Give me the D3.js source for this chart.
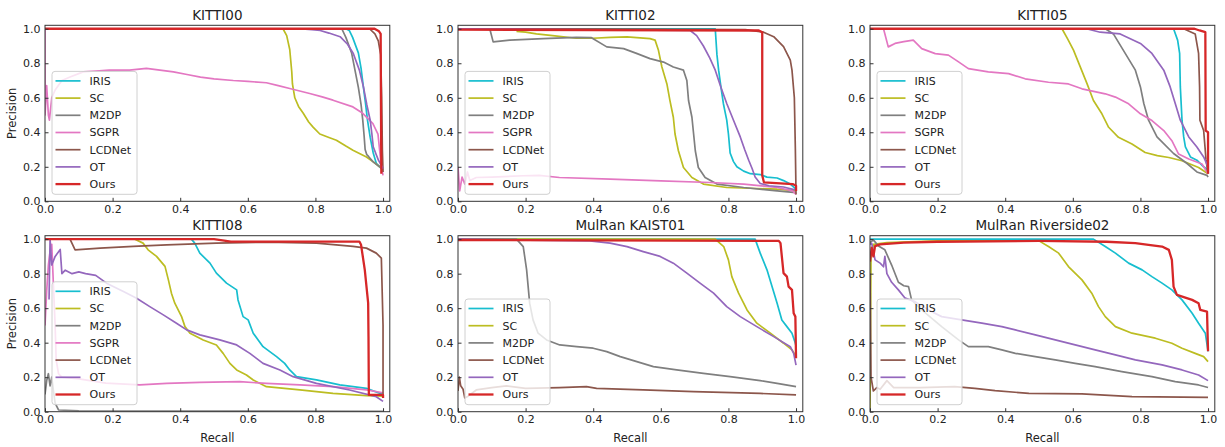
<!DOCTYPE html>
<html>
<head>
<meta charset="utf-8">
<script src="https://cdn.jsdelivr.net/npm/d3@7/dist/d3.min.js"></script>
<style>
  body { margin: 0; background: #fff; }
  svg { display: block; font-family: "DejaVu Sans", sans-serif; }
</style>
</head>
<body>
<svg id="chart" width="1225" height="447"></svg>
<script>
// methods in plotting / legend order
const methods = ["IRIS", "SC", "M2DP", "SGPR", "LCDNet", "OT", "Ours"];
const tickValues = [0, 0.2, 0.4, 0.6, 0.8, 1.0];

// PR curves, [recall, precision] pairs
const kitti00 = {
  IRIS: [[0,1],[0.89,1],[0.9,0.99],[0.91,0.95],[0.927,0.86],[0.935,0.77],[0.942,0.66],[0.948,0.57],[0.954,0.47],[0.962,0.37],[0.971,0.28],[0.98,0.22],[0.99,0.2],[1,0.18]],
  SC: [[0,1],[0.704,1],[0.715,0.96],[0.724,0.88],[0.73,0.75],[0.732,0.68],[0.739,0.6],[0.75,0.55],[0.764,0.51],[0.78,0.46],[0.793,0.43],[0.813,0.39],[0.84,0.37],[0.862,0.354],[0.89,0.32],[0.911,0.296],[0.951,0.257],[0.97,0.23],[0.99,0.2],[1,0.19]],
  M2DP: [[0,1],[0.878,1],[0.89,0.95],[0.907,0.86],[0.918,0.75],[0.927,0.66],[0.935,0.56],[0.94,0.47],[0.944,0.38],[0.947,0.3],[0.952,0.27],[0.957,0.26],[0.97,0.23],[0.99,0.2],[1,0.19]],
  SGPR: [[0,1],[0,0.5],[0.005,0.67],[0.01,0.5],[0.013,0.47],[0.02,0.6],[0.03,0.645],[0.05,0.7],[0.074,0.72],[0.113,0.75],[0.15,0.755],[0.19,0.76],[0.25,0.76],[0.3,0.77],[0.34,0.76],[0.38,0.75],[0.42,0.735],[0.46,0.72],[0.5,0.71],[0.557,0.7],[0.6,0.695],[0.655,0.687],[0.69,0.67],[0.724,0.654],[0.783,0.625],[0.82,0.605],[0.852,0.586],[0.911,0.547],[0.94,0.51],[0.97,0.45],[0.985,0.39],[0.995,0.2],[1,0.15]],
  LCDNet: [[0,1],[0.96,1],[0.976,0.97],[0.986,0.93],[0.993,0.85],[0.996,0.6],[0.998,0.3],[1,0.17]],
  OT: [[0,1],[0.75,1],[0.79,0.995],[0.814,0.99],[0.84,0.975],[0.873,0.954],[0.895,0.91],[0.912,0.857],[0.93,0.76],[0.942,0.663],[0.952,0.56],[0.962,0.47],[0.967,0.39],[0.971,0.316],[0.98,0.27],[0.986,0.24],[1,0.19]],
  Ours: [[0,1],[0.975,1],[0.988,0.985],[0.993,0.97],[0.994,0.5],[0.995,0.16]]
};

const kitti02 = {
  IRIS: [[0,1],[0.761,1],[0.766,0.85],[0.771,0.76],[0.778,0.66],[0.785,0.567],[0.795,0.47],[0.8,0.39],[0.805,0.28],[0.815,0.23],[0.825,0.2],[0.845,0.175],[0.865,0.16],[0.894,0.155],[0.914,0.14],[0.944,0.135],[0.963,0.12],[0.983,0.1],[1,0.07]],
  SC: [[0.173,0.985],[0.2,0.98],[0.232,0.97],[0.28,0.96],[0.35,0.945],[0.4,0.945],[0.45,0.95],[0.5,0.953],[0.568,0.943],[0.583,0.934],[0.593,0.875],[0.603,0.78],[0.618,0.68],[0.627,0.584],[0.637,0.487],[0.642,0.39],[0.652,0.293],[0.667,0.196],[0.692,0.138],[0.726,0.1],[0.795,0.08],[0.944,0.07],[1,0.06]],
  M2DP: [[0,1],[0.094,1],[0.104,0.924],[0.153,0.934],[0.252,0.943],[0.35,0.95],[0.395,0.948],[0.44,0.895],[0.49,0.885],[0.53,0.856],[0.568,0.827],[0.608,0.807],[0.637,0.778],[0.667,0.76],[0.677,0.7],[0.682,0.584],[0.692,0.487],[0.697,0.39],[0.702,0.293],[0.711,0.196],[0.731,0.138],[0.766,0.1],[0.845,0.08],[0.944,0.06],[1,0.05]],
  SGPR: [[0,0.2],[0.005,0.06],[0.012,0.14],[0.02,0.1],[0.028,0.17],[0.035,0.12],[0.054,0.138],[0.1,0.14],[0.193,0.148],[0.24,0.15],[0.3,0.138],[0.45,0.128],[0.6,0.118],[0.746,0.109],[0.845,0.1],[0.944,0.08],[0.99,0.06],[1,0.04]],
  LCDNet: [[0,1],[0.85,0.995],[0.904,0.98],[0.934,0.954],[0.963,0.896],[0.973,0.857],[0.983,0.818],[0.988,0.76],[0.995,0.6],[0.998,0.3],[1,0.04]],
  OT: [[0,1],[0.687,0.99],[0.706,0.96],[0.726,0.9],[0.745,0.83],[0.761,0.76],[0.778,0.66],[0.795,0.567],[0.815,0.47],[0.835,0.373],[0.848,0.3],[0.86,0.238],[0.87,0.19],[0.879,0.141],[0.894,0.103],[0.92,0.09],[0.963,0.083],[1,0.065]],
  Ours: [[0,0.995],[0.89,0.99],[0.9,0.98],[0.9,0.15],[0.905,0.11],[0.99,0.1],[1,0.09],[1,0.06]]
};

const kitti05 = {
  IRIS: [[0,1],[0.898,1],[0.91,0.934],[0.916,0.857],[0.918,0.663],[0.923,0.47],[0.928,0.373],[0.933,0.315],[0.948,0.257],[0.967,0.238],[0.987,0.2],[1,0.18]],
  SC: [[0,1],[0.568,1],[0.585,0.94],[0.602,0.876],[0.622,0.779],[0.642,0.682],[0.661,0.584],[0.686,0.507],[0.706,0.429],[0.735,0.371],[0.775,0.332],[0.814,0.283],[0.85,0.265],[0.884,0.254],[0.923,0.235],[0.972,0.196],[1,0.16]],
  M2DP: [[0,1],[0.696,1],[0.72,0.97],[0.755,0.857],[0.785,0.76],[0.8,0.663],[0.81,0.567],[0.824,0.47],[0.849,0.373],[0.898,0.277],[0.938,0.219],[0.967,0.17],[0.997,0.15],[1,0.14]],
  SGPR: [[0,1],[0.04,1],[0.054,0.895],[0.074,0.915],[0.1,0.925],[0.128,0.934],[0.153,0.885],[0.193,0.856],[0.232,0.847],[0.262,0.808],[0.291,0.769],[0.35,0.75],[0.41,0.74],[0.459,0.71],[0.528,0.69],[0.587,0.68],[0.627,0.652],[0.696,0.623],[0.726,0.604],[0.765,0.565],[0.8,0.507],[0.834,0.468],[0.869,0.41],[0.893,0.351],[0.913,0.274],[0.943,0.245],[0.982,0.216],[1,0.16]],
  LCDNet: [[0,1],[0.928,1],[0.962,0.97],[0.972,0.857],[0.975,0.663],[0.976,0.47],[0.987,0.41],[0.991,0.315],[0.994,0.24],[1,0.16]],
  OT: [[0,1],[0.64,1],[0.681,0.98],[0.74,0.97],[0.8,0.915],[0.834,0.857],[0.869,0.76],[0.888,0.663],[0.903,0.567],[0.918,0.47],[0.943,0.373],[0.967,0.315],[0.987,0.257],[1,0.2]],
  Ours: [[0,1],[0.96,1],[0.975,0.99],[0.992,0.98],[0.993,0.41],[1,0.4],[1,0.16]]
};

const kitti08 = {
  IRIS: [[0,1],[0.433,1],[0.443,0.977],[0.458,0.919],[0.488,0.861],[0.507,0.803],[0.537,0.745],[0.567,0.706],[0.571,0.648],[0.586,0.551],[0.601,0.532],[0.616,0.455],[0.645,0.377],[0.685,0.319],[0.709,0.28],[0.724,0.242],[0.744,0.203],[0.803,0.184],[0.872,0.155],[0.951,0.135],[1,0.1]],
  SC: [[0,1],[0.266,1],[0.29,0.977],[0.305,0.938],[0.33,0.9],[0.355,0.842],[0.365,0.764],[0.374,0.687],[0.384,0.629],[0.404,0.551],[0.414,0.493],[0.429,0.455],[0.468,0.416],[0.507,0.387],[0.527,0.338],[0.547,0.28],[0.567,0.242],[0.596,0.213],[0.616,0.184],[0.655,0.145],[0.754,0.126],[0.852,0.106],[0.951,0.093],[1,0.09]],
  M2DP: [[0,0.1],[0.005,0.18],[0.01,0.22],[0.015,0.15],[0.02,0.2],[0.025,0.12],[0.03,0.05],[0.04,0.01],[0.1,0.005],[1,0.002]],
  SGPR: [[0,0.5],[0.005,0.7],[0.01,0.85],[0.015,0.93],[0.02,0.97],[0.025,0.73],[0.03,0.5],[0.033,0.3],[0.04,0.22],[0.05,0.2],[0.1,0.19],[0.18,0.166],[0.28,0.156],[0.36,0.164],[0.458,0.17],[0.576,0.174],[0.655,0.164],[0.754,0.155],[0.852,0.145],[0.951,0.126],[1,0.11]],
  LCDNet: [[0,1],[0.074,1],[0.089,0.938],[0.163,0.948],[0.261,0.958],[0.36,0.967],[0.507,0.977],[0.655,0.983],[0.803,0.977],[0.911,0.958],[0.951,0.948],[0.98,0.919],[0.995,0.89],[1,0.5],[1,0.08]],
  OT: [[0.012,0.65],[0.015,1],[0.02,0.85],[0.03,0.9],[0.045,0.94],[0.05,0.8],[0.06,0.82],[0.08,0.8],[0.1,0.81],[0.12,0.8],[0.15,0.79],[0.182,0.745],[0.232,0.696],[0.271,0.658],[0.31,0.609],[0.35,0.561],[0.389,0.513],[0.419,0.474],[0.458,0.445],[0.517,0.416],[0.567,0.387],[0.606,0.338],[0.645,0.28],[0.695,0.242],[0.734,0.203],[0.803,0.164],[0.901,0.126],[0.98,0.087],[1,0.06]],
  Ours: [[0,1],[0.5,1],[0.55,0.986],[0.93,0.986],[0.935,0.967],[0.946,0.822],[0.956,0.629],[0.957,0.435],[0.958,0.097],[1,0.097],[1,0.08]]
};

const kaist01 = {
  IRIS: [[0,1],[0.879,1],[0.894,0.919],[0.914,0.822],[0.929,0.725],[0.944,0.629],[0.958,0.532],[0.973,0.493],[0.988,0.455],[0.998,0.397],[1,0.38]],
  SC: [[0,1],[0.761,1],[0.786,0.957],[0.8,0.88],[0.81,0.783],[0.83,0.687],[0.855,0.59],[0.884,0.513],[0.924,0.455],[0.963,0.397],[0.988,0.358],[1,0.32]],
  M2DP: [[0,1],[0.173,1],[0.193,0.957],[0.203,0.822],[0.212,0.629],[0.222,0.532],[0.237,0.455],[0.262,0.416],[0.301,0.387],[0.351,0.377],[0.4,0.368],[0.44,0.348],[0.48,0.319],[0.529,0.29],[0.578,0.261],[0.647,0.242],[0.726,0.222],[0.805,0.203],[0.894,0.18],[0.944,0.164],[1,0.145]],
  LCDNet: [[0,0.12],[0.004,0.2],[0.008,0.15],[0.015,0.13],[0.02,0.08],[0.03,0.09],[0.054,0.126],[0.1,0.14],[0.143,0.15],[0.2,0.135],[0.3,0.14],[0.38,0.145],[0.41,0.135],[0.548,0.126],[0.697,0.116],[0.894,0.106],[1,0.097]],
  OT: [[0,1],[0.39,0.99],[0.45,0.977],[0.5,0.957],[0.548,0.928],[0.598,0.9],[0.637,0.861],[0.677,0.803],[0.716,0.745],[0.756,0.687],[0.795,0.609],[0.835,0.551],[0.884,0.493],[0.934,0.435],[0.983,0.377],[0.993,0.338],[1,0.27]],
  Ours: [[0,0.995],[0.949,0.99],[0.954,0.977],[0.963,0.803],[0.973,0.783],[0.978,0.725],[0.988,0.706],[0.993,0.57],[0.998,0.551],[1,0.31]]
};

const riverside02 = {
  IRIS: [[0,1],[0.661,1],[0.696,0.957],[0.726,0.919],[0.765,0.861],[0.805,0.822],[0.834,0.783],[0.864,0.745],[0.893,0.706],[0.923,0.648],[0.953,0.571],[0.972,0.513],[0.992,0.455],[1,0.35]],
  SC: [[0,0.02],[0.003,0.9],[0.01,0.97],[0.05,0.98],[0.2,0.99],[0.5,0.99],[0.528,0.957],[0.558,0.919],[0.587,0.841],[0.627,0.764],[0.656,0.687],[0.676,0.609],[0.696,0.551],[0.726,0.493],[0.775,0.455],[0.844,0.426],[0.893,0.397],[0.923,0.368],[0.962,0.338],[0.987,0.319],[1,0.29]],
  M2DP: [[0,0.98],[0.01,0.996],[0.025,0.96],[0.044,0.938],[0.064,0.85],[0.084,0.75],[0.1,0.73],[0.114,0.725],[0.123,0.648],[0.153,0.59],[0.212,0.493],[0.262,0.416],[0.291,0.377],[0.35,0.377],[0.39,0.358],[0.43,0.338],[0.489,0.319],[0.548,0.3],[0.607,0.28],[0.666,0.261],[0.745,0.232],[0.834,0.203],[0.903,0.174],[0.972,0.155],[1,0.14]],
  LCDNet: [[0,0.8],[0.003,0.2],[0.01,0.12],[0.02,0.14],[0.03,0.13],[0.05,0.18],[0.07,0.14],[0.15,0.14],[0.25,0.145],[0.31,0.135],[0.37,0.122],[0.47,0.106],[0.627,0.103],[0.775,0.087],[1,0.083]],
  OT: [[0,0.97],[0.005,0.977],[0.015,0.88],[0.03,0.861],[0.04,0.84],[0.044,0.9],[0.05,0.8],[0.064,0.75],[0.084,0.706],[0.104,0.658],[0.133,0.638],[0.173,0.59],[0.212,0.551],[0.271,0.532],[0.331,0.513],[0.39,0.493],[0.43,0.474],[0.489,0.445],[0.548,0.416],[0.607,0.387],[0.666,0.358],[0.726,0.329],[0.785,0.3],[0.864,0.271],[0.923,0.242],[0.972,0.213],[1,0.18]],
  Ours: [[0,0.87],[0.005,0.95],[0.01,0.9],[0.015,0.96],[0.03,0.97],[0.1,0.98],[0.2,0.985],[0.5,0.99],[0.7,0.985],[0.785,0.977],[0.824,0.967],[0.864,0.957],[0.884,0.938],[0.893,0.88],[0.898,0.725],[0.908,0.677],[0.953,0.648],[0.972,0.629],[0.977,0.59],[0.997,0.58],[1,0.35]]
};

const panels = [
  { title: "KITTI00", data: kitti00, col: 0, row: 0 },
  { title: "KITTI02", data: kitti02, col: 1, row: 0 },
  { title: "KITTI05", data: kitti05, col: 2, row: 0 },
  { title: "KITTI08", data: kitti08, col: 0, row: 1 },
  { title: "MulRan KAIST01", data: kaist01, col: 1, row: 1 },
  { title: "MulRan Riverside02", data: riverside02, col: 2, row: 1 }
];

// matplotlib tab10 colours
const color = d3.scaleOrdinal()
  .domain(methods)
  .range(["#17becf", "#bcbd22", "#7f7f7f", "#e377c2", "#8c564b", "#9467bd", "#d62728"]);

const colLeft = [45, 458, 870];
const rowBottom = [201.3, 411.7];
const plotW = 344.8, plotH = 176;

const svg = d3.select("#chart");
svg.append("rect").attr("width", 1225).attr("height", 447).attr("fill", "#fff");

const x = d3.scaleLinear().domain([0, 1.02]).range([0, plotW]);
const y = d3.scaleLinear().domain([0, 1.02]).range([plotH, 0]);

const line = d3.line()
  .x(d => x(d[0]))
  .y(d => y(d[1]));

panels.forEach(function(p, i) {
  let g = svg.append("g")
    .attr("transform", `translate(${colLeft[p.col]},${rowBottom[p.row] - plotH})`);

  g.append("clipPath").attr("id", "clip" + i)
    .append("rect").attr("width", plotW).attr("height", plotH);

  // curves
  let curves = g.append("g").attr("clip-path", `url(#clip${i})`);
  methods.filter(m => p.data[m]).forEach(function(m) {
    curves.append("path")
      .datum(p.data[m])
      .attr("d", line)
      .attr("fill", "none")
      .attr("stroke", color(m))
      .attr("stroke-width", m === "Ours" ? 2.3 : 1.7)
      .attr("stroke-linejoin", "round");
  });

  // axes with inward ticks
  let yAxis = g.append("g")
    .call(d3.axisLeft(y).tickValues(tickValues).tickFormat(d3.format(".1f")).tickSize(-3.5).tickPadding(4.5));
  let xAxis = g.append("g")
    .attr("transform", `translate(0,${plotH})`)
    .call(d3.axisBottom(x).tickValues(tickValues).tickFormat(d3.format(".1f")).tickSize(-3.5).tickPadding(3.8));
  [xAxis, yAxis].forEach(function(a) {
    a.select(".domain").remove();
    a.selectAll("line").attr("stroke", "#333");
    a.selectAll("text").attr("fill", "#222").style("font-size", "11px")
      .style("font-family", "DejaVu Sans");
  });

  // frame
  g.append("rect")
    .attr("width", plotW).attr("height", plotH)
    .attr("fill", "none").attr("stroke", "#333").attr("stroke-width", 1);

  g.append("text")
    .attr("x", plotW / 2).attr("y", -5.5)
    .attr("text-anchor", "middle")
    .style("font-size", "13.5px").attr("fill", "#222")
    .text(p.title);

  if (p.col === 0) {
    g.append("text")
      .attr("transform", `translate(-29,${plotH / 2}) rotate(-90)`)
      .attr("text-anchor", "middle")
      .style("font-size", "11.5px").attr("fill", "#222")
      .text("Precision");
  }
  if (p.row === 1) {
    g.append("text")
      .attr("x", plotW / 2).attr("y", plotH + 30)
      .attr("text-anchor", "middle")
      .style("font-size", "11.5px").attr("fill", "#222")
      .text("Recall");
  }

  // legend, lower left
  let items = methods.filter(m => p.data[m]);
  let lh = items.length * 17.2 + 2.5;
  let leg = g.append("g").attr("transform", `translate(7,${plotH - 7 - lh})`);
  leg.append("rect")
    .attr("width", 85).attr("height", lh).attr("rx", 3)
    .attr("fill", "#fff").attr("fill-opacity", 0.8)
    .attr("stroke", "#d0d0d0").attr("stroke-width", 1);
  items.forEach(function(m, k) {
    let cy = 9.5 + k * 17.2;
    leg.append("line")
      .attr("x1", 3.5).attr("x2", 28.5).attr("y1", cy).attr("y2", cy)
      .attr("stroke", color(m)).attr("stroke-width", m === "Ours" ? 2.3 : 1.7);
    leg.append("text")
      .attr("x", 37.5).attr("y", cy).attr("dy", "0.35em")
      .style("font-size", "11px").attr("fill", "#222")
      .text(m);
  });
});
</script>
</body>
</html>
